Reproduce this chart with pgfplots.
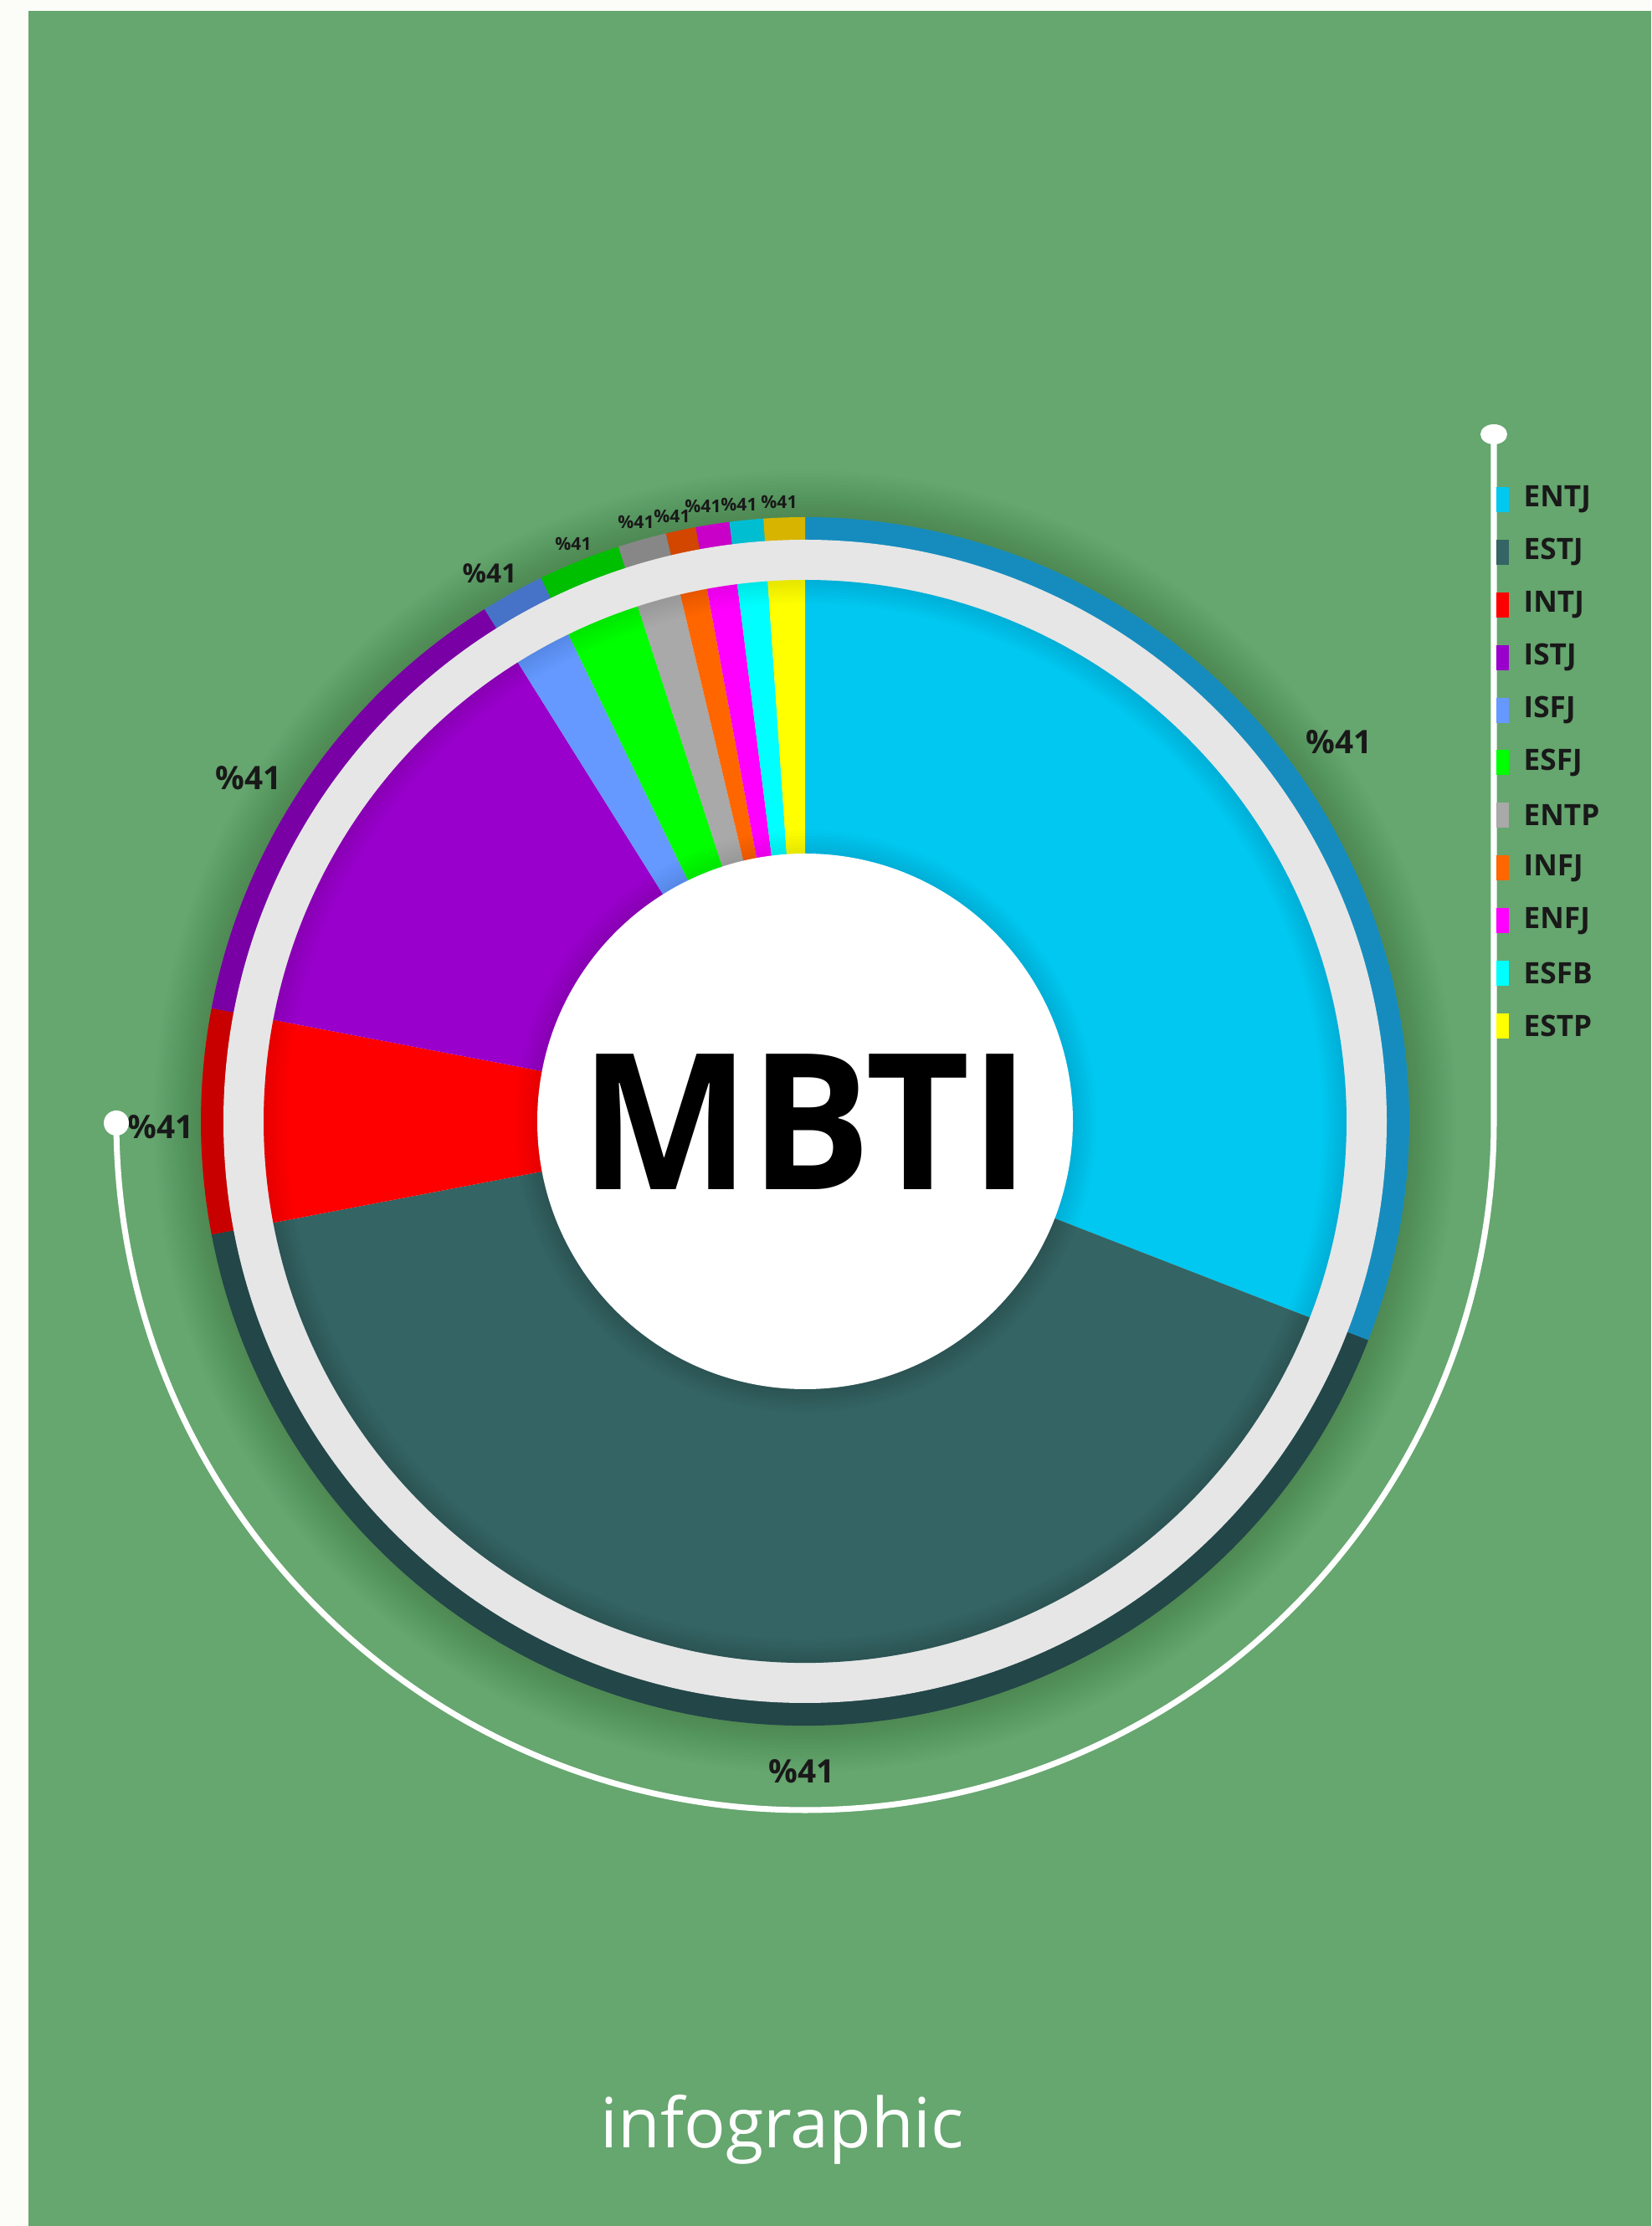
\documentclass[border=0pt]{standalone}
\usepackage{fontspec}
\setmainfont{Open Sans}
\usepackage{pgfplots}
\usepackage{pgfplotstable}
\pgfplotsset{compat=1.18}

\definecolor{bg}{RGB}{102,166,111}
\definecolor{paper}{RGB}{252,252,249}
\definecolor{ring}{RGB}{230,230,230}
\definecolor{lab}{RGB}{25,25,25}
\definecolor{cENTJ}{RGB}{0,200,240}   \definecolor{rENTJ}{RGB}{22,140,190}
\definecolor{cESTJ}{RGB}{52,100,100}  \definecolor{rESTJ}{RGB}{35,70,72}
\definecolor{cINTJ}{RGB}{255,0,0}     \definecolor{rINTJ}{RGB}{200,0,0}
\definecolor{cISTJ}{RGB}{153,0,204}   \definecolor{rISTJ}{RGB}{120,0,165}
\definecolor{cISFJ}{RGB}{102,153,255} \definecolor{rISFJ}{RGB}{70,115,200}
\definecolor{cESFJ}{RGB}{0,255,0}     \definecolor{rESFJ}{RGB}{0,190,0}
\definecolor{cENTP}{RGB}{169,169,169} \definecolor{rENTP}{RGB}{135,135,135}
\definecolor{cINFJ}{RGB}{255,102,0}   \definecolor{rINFJ}{RGB}{210,70,0}
\definecolor{cENFJ}{RGB}{255,0,255}   \definecolor{rENFJ}{RGB}{200,0,200}
\definecolor{cESFB}{RGB}{0,255,255}   \definecolor{rESFB}{RGB}{0,190,210}
\definecolor{cESTP}{RGB}{255,255,0}   \definecolor{rESTP}{RGB}{215,180,0}

% share of each type (percent), label position and label size (pt)
\pgfplotstableread{
name value lx   ly   ls
ENTJ 30.9  1600 1773 11
ESTJ 41.1  958  543  11
INTJ 6.0   192  1313 11
ISTJ 13.1  297  1730 11
ISFJ 1.7   585  1975 9
ESFJ 2.2   685  2010 6
ENTP 1.3   760  2036 6
INFJ 0.8   803  2043 6
ENFJ 0.9   840  2055 6
ESFB 0.9   883  2057 6
ESTP 1.1   931  2060 6
}\mbti

\begin{document}
\begin{tikzpicture}
\begin{axis}[
  scale only axis, width=19.73cm, height=26.6cm,
  xmin=0, xmax=1973, ymin=0, ymax=2660,
  axis lines=none, clip=false,
]
% background
\fill[paper] (axis cs:0,0) rectangle (axis cs:1973,2660);
\fill[bg] (axis cs:34,0) rectangle (axis cs:1973,2647);

% soft shadow around donut (many faint steps)
\pgfplotsforeachungrouped \k in {1,...,14}{%
  \pgfmathsetmacro\rr{7.22+0.04*\k}
  \edef\temp{\noexpand\fill[black, opacity=0.012] (axis cs:962,1320) circle[radius=\rr cm];}
  \temp
}

\pgfplotstablegetrowsof{\mbti}
\pgfmathtruncatemacro\nlast{\pgfplotsretval-1}

% outer coloured rim
\def\cum{0}
\pgfplotsforeachungrouped \i in {0,...,\nlast}{%
  \pgfplotstablegetelem{\i}{value}\of\mbti\let\val\pgfplotsretval
  \pgfplotstablegetelem{\i}{name}\of\mbti\let\nm\pgfplotsretval
  \pgfmathsetmacro\angA{90-3.6*\cum}
  \pgfmathsetmacro\cum{\cum+\val}
  \pgfmathsetmacro\angB{90-3.6*\cum}
  \edef\temp{\noexpand\fill[r\nm] (axis cs:962,1320) -- ++(\angA:7.22cm)
     arc[start angle=\angA, end angle=\angB, radius=7.22cm] -- cycle;}
  \temp
}
% light gray ring
\fill[ring] (axis cs:962,1320) circle[radius=6.95cm];

% main slices
\def\cum{0}
\pgfplotsforeachungrouped \i in {0,...,\nlast}{%
  \pgfplotstablegetelem{\i}{value}\of\mbti\let\val\pgfplotsretval
  \pgfplotstablegetelem{\i}{name}\of\mbti\let\nm\pgfplotsretval
  \pgfmathsetmacro\angA{90-3.6*\cum}
  \pgfmathsetmacro\cum{\cum+\val}
  \pgfmathsetmacro\angB{90-3.6*\cum}
  \edef\temp{\noexpand\fill[c\nm] (axis cs:962,1320) -- ++(\angA:6.47cm)
     arc[start angle=\angA, end angle=\angB, radius=6.47cm] -- cycle;}
  \temp
}
% soft inner shading under the gray ring and around the hole
\pgfplotsforeachungrouped \k in {1,...,8}{%
  \pgfmathsetmacro\rr{6.47-0.035*\k}
  \pgfmathsetmacro\rh{3.20+0.035*\k}
  \edef\temp{\noexpand\fill[black, opacity=0.01, even odd rule] (axis cs:962,1320) circle[radius=6.47cm] circle[radius=\rr cm];
    \noexpand\fill[black, opacity=0.01] (axis cs:962,1320) circle[radius=\rh cm];}
  \temp
}
% white hole
\fill[white] (axis cs:962,1320) circle[radius=3.20cm];

% percentage labels
\pgfplotsforeachungrouped \i in {0,...,\nlast}{%
  \pgfplotstablegetelem{\i}{lx}\of\mbti\let\lx\pgfplotsretval
  \pgfplotstablegetelem{\i}{ly}\of\mbti\let\ly\pgfplotsretval
  \pgfplotstablegetelem{\i}{ls}\of\mbti\let\ls\pgfplotsretval
  \edef\temp{\noexpand\node[text=lab, inner sep=0pt,
     font=\noexpand\fontsize{\ls}{\ls}\noexpand\selectfont\noexpand\bfseries]
     at (axis cs:\lx,\ly) {\noexpand\%41};}
  \temp
}

% white connector line with end dots
\draw[white, line width=2pt] (axis cs:1785,2141) -- (axis cs:1785,1320)
   arc[start angle=0, end angle=-180, radius=8.23cm];
\fill[white] (axis cs:1785,2141) ellipse[x radius=0.16cm, y radius=0.12cm];
\fill[white] (axis cs:139,1318) circle[radius=0.15cm];

% legend
\pgfplotsforeachungrouped \i in {0,...,\nlast}{%
  \pgfplotstablegetelem{\i}{name}\of\mbti\let\nm\pgfplotsretval
  \pgfmathsetmacro\ry{2063-62.9*\i}
  \edef\temp{\noexpand\fill[c\nm] (axis cs:1788,\ry-15) rectangle (axis cs:1803,\ry+15);
    \noexpand\node[anchor=west, text=lab, inner sep=0pt,
      font=\noexpand\fontsize{10}{12}\noexpand\selectfont\noexpand\bfseries]
      at (axis cs:1820,\ry) {\nm};}
  \temp
}

% centre title and footer
\node[anchor=base, inner sep=0pt, xscale=0.95,
  font=\fontsize{64.5}{70}\selectfont\bfseries] at (axis cs:962,1238) {MBTI};
\node[anchor=base, inner sep=0pt, text=white,
  font=\fontsize{23.5}{28}\selectfont] at (axis cs:935,93) {infographic};
\end{axis}
\end{tikzpicture}
\end{document}
